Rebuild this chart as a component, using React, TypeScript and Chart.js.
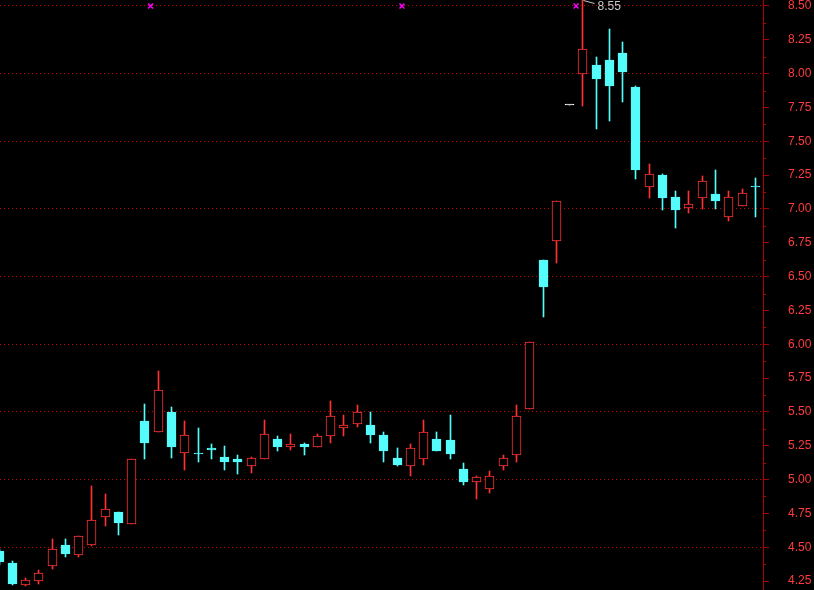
import React, { useEffect, useRef } from 'react';
import { Chart, registerables } from 'chart.js';

Chart.register(...registerables);

// ---- data ----
const OPEN = [
  4.47, 4.38, 4.22, 4.25, 4.36, 4.52, 4.44, 4.52, 4.72, 4.76,
  4.67, 5.43, 5.35, 5.50, 5.20, 5.20, 5.23, 5.17, 5.15, 5.10,
  5.15, 5.30, 5.24, 5.26, 5.24, 5.32, 5.38, 5.41, 5.40, 5.33,
  5.16, 5.10, 5.15, 5.30, 5.29, 5.08, 4.98, 4.93, 5.10, 5.18,
  5.52, 6.62, 6.76, 7.77, 8.00, 8.06, 8.10, 8.15, 7.90, 7.16,
  7.25, 7.09, 7.01, 7.08, 7.11, 6.94, 7.02, 7.16,
];
const HIGH = [
  4.49, 4.40, 4.27, 4.33, 4.56, 4.56, 4.58, 4.95, 4.89, 4.76,
  5.15, 5.56, 5.80, 5.54, 5.43, 5.38, 5.26, 5.25, 5.18, 5.17,
  5.44, 5.32, 5.34, 5.27, 5.34, 5.58, 5.48, 5.55, 5.50, 5.35,
  5.23, 5.26, 5.44, 5.35, 5.48, 5.12, 5.03, 5.06, 5.18, 5.55,
  6.02, 6.62, 7.06, 7.77, 8.55, 8.12, 8.33, 8.23, 7.91, 7.33,
  7.26, 7.13, 7.13, 7.24, 7.29, 7.13, 7.15, 7.23,
];
const LOW = [
  4.37, 4.22, 4.21, 4.23, 4.34, 4.43, 4.43, 4.51, 4.66, 4.59,
  4.67, 5.15, 5.35, 5.16, 5.07, 5.13, 5.15, 5.07, 5.04, 5.05,
  5.15, 5.21, 5.22, 5.18, 5.24, 5.27, 5.32, 5.39, 5.27, 5.13,
  5.10, 5.03, 5.11, 5.21, 5.15, 4.96, 4.86, 4.90, 5.07, 5.13,
  5.52, 6.20, 6.60, 7.77, 7.76, 7.59, 7.65, 7.79, 7.22, 7.08,
  6.99, 6.86, 6.97, 7.00, 7.00, 6.91, 7.02, 6.94,
];
const CLOSE = [
  4.39, 4.23, 4.26, 4.31, 4.49, 4.45, 4.58, 4.70, 4.78, 4.68,
  5.15, 5.27, 5.66, 5.24, 5.33, 5.19, 5.22, 5.13, 5.13, 5.16,
  5.34, 5.24, 5.26, 5.24, 5.32, 5.47, 5.40, 5.50, 5.33, 5.21,
  5.11, 5.23, 5.35, 5.21, 5.19, 4.98, 5.02, 5.03, 5.16, 5.47,
  6.02, 6.42, 7.06, 7.77, 8.18, 7.96, 7.91, 8.01, 7.29, 7.26,
  7.08, 6.99, 7.04, 7.21, 7.06, 7.09, 7.12, 7.16,
];
const Y_LABELS = [
  4.25, 4.5, 4.75, 5.0, 5.25, 5.5, 5.75, 6.0, 6.25,
  6.5, 6.75, 7.0, 7.25, 7.5, 7.75, 8.0, 8.25, 8.5,
];
const MARKER_X = [11.42, 30.37, 43.49];
const MARKER_Y = [8.5, 8.5, 8.5];

// ---- view / style ----
const Y_MIN = 4.184;
const Y_MAX = 8.544;
const X_MIN = 0.073;
const X_MAX = 57.58;
const RED = '#ff3232';
const CYAN = '#54fcfc';
const WHITE = '#ffffff';
const MAGENTA = '#ff00ff';
const AXIS_COLOR = '#b00000';
const GRID_COLOR = '#c80000';
const LABEL_COLOR = '#ff3c3c';
const FONT = '"Liberation Sans", Arial, sans-serif';

const candleColor = (i: number) => {
  if (CLOSE[i] > OPEN[i]) return RED;
  if (CLOSE[i] < OPEN[i]) return CYAN;
  return HIGH[i] === LOW[i] ? WHITE : CYAN;
};
const bodyFill = (i: number) => (CLOSE[i] > OPEN[i] ? '#000000' : candleColor(i));
const isHalf = (v: number) => Math.abs(v * 2 - Math.round(v * 2)) < 1e-6;

// snap bar elements computed by the scales to whole pixels for crisp candles
const snapPlugin = {
  id: 'snap',
  afterDatasetsUpdate(chart: any) {
    chart.data.datasets.forEach((ds: any, di: number) => {
      const meta = chart.getDatasetMeta(di);
      if (meta.type !== 'bar') return;
      meta.data.forEach((el: any) => {
        el.x = Math.floor(el.x) + 0.5;
        let y = Math.round(el.y);
        let b = Math.round(el.base);
        if (Math.abs(b - y) < 1 && Math.abs(el.base - el.y) > 0) b = y + 1;
        el.y = y;
        el.base = b;
        el.height = b - y;
      });
    });
  },
};

const decorPlugin = {
  id: 'decor',
  afterDraw(chart: any) {
    const { ctx, chartArea } = chart;
    const x = chart.scales.x;
    const y = chart.scales.y;
    ctx.save();
    // minor axis ticks
    ctx.strokeStyle = AXIS_COLOR;
    ctx.lineWidth = 1;
    ctx.beginPath();
    for (let k = 0; k < Y_LABELS.length - 1; k++) {
      const v = (Y_LABELS[k] + Y_LABELS[k + 1]) / 2;
      const py = Math.round(y.getPixelForValue(v)) + 0.5;
      ctx.moveTo(chartArea.right, py);
      ctx.lineTo(chartArea.right + 3, py);
    }
    ctx.stroke();
    // highest price annotation
    let iMax = 0;
    HIGH.forEach((h, i) => { if (h > HIGH[iMax]) iMax = i; });
    const px = Math.floor(x.getPixelForValue(iMax)) + 0.5;
    const py = Math.max(y.getPixelForValue(HIGH[iMax]), chartArea.top) + 0.5;
    ctx.strokeStyle = '#c8c8c8';
    ctx.beginPath();
    ctx.moveTo(px + 1, py);
    ctx.lineTo(px + 12, py + 3);
    ctx.stroke();
    ctx.fillStyle = '#c8c8c8';
    ctx.font = `12px ${FONT}`;
    ctx.textAlign = 'left';
    ctx.textBaseline = 'middle';
    ctx.fillText(HIGH[iMax].toFixed(2), px + 15, py + 6);
    ctx.restore();
  },
};

export default function App() {
  const ref = useRef<HTMLCanvasElement>(null);
  useEffect(() => {
    const n = OPEN.length;
    const idx = Array.from({ length: n }, (_, i) => i);
    const colors = idx.map(candleColor);
    const fills = idx.map(bodyFill);
    const chart = new Chart(ref.current as HTMLCanvasElement, {
      type: 'bar',
      data: {
        datasets: [
          {
            type: 'scatter',
            label: 'markers',
            data: MARKER_X.map((mx, i) => ({ x: mx, y: MARKER_Y[i] })),
            pointStyle: 'crossRot',
            pointRadius: 3.5,
            pointBorderWidth: 1.5,
            pointBorderColor: MAGENTA,
            pointBackgroundColor: MAGENTA,
            order: 0,
          } as any,
          {
            label: 'body',
            data: idx.map((i) => ({ x: i, y: [OPEN[i], CLOSE[i]] })),
            backgroundColor: fills,
            borderColor: colors,
            borderWidth: 1,
            borderSkipped: false,
            barThickness: 9,
            grouped: false,
            minBarLength: 1,
            order: 1,
          } as any,
          {
            label: 'wick',
            data: idx.map((i) => ({ x: i, y: [LOW[i], HIGH[i]] })),
            backgroundColor: colors,
            borderWidth: 0,
            barThickness: 1,
            grouped: false,
            order: 2,
          } as any,
        ],
      },
      options: {
        animation: false,
        responsive: false,
        maintainAspectRatio: false,
        events: [],
        layout: { padding: 0, autoPadding: false },
        plugins: { legend: { display: false }, tooltip: { enabled: false } },
        scales: {
          x: {
            type: 'linear',
            min: X_MIN,
            max: X_MAX,
            display: false,
            offset: false,
            grid: { offset: false },
          },
          y: {
            type: 'linear',
            position: 'right',
            min: Y_MIN,
            max: Y_MAX,
            beginAtZero: false,
            afterBuildTicks: (s: any) => {
              s.ticks = Y_LABELS.map((v) => ({ value: v }));
            },
            afterFit: (s: any) => {
              s.width = 51;
              s.paddingTop = 0;
              s.paddingBottom = 0;
            },
            ticks: {
              autoSkip: false,
              padding: 19,
              color: LABEL_COLOR,
              font: { family: FONT, size: 12 },
              callback: (v: any) => Number(v).toFixed(2),
            },
            grid: {
              color: (c: any) => (c.tick && isHalf(c.tick.value) ? GRID_COLOR : 'rgba(0,0,0,0)'),
              tickColor: AXIS_COLOR,
              tickLength: 6,
              tickBorderDash: [],
              drawTicks: true,
              lineWidth: 1,
            },
            border: { display: true, color: AXIS_COLOR, width: 1, dash: [1, 3] },
          },
        },
      } as any,
      plugins: [snapPlugin, decorPlugin],
    });
    return () => chart.destroy();
  }, []);
  return (
    <div style={{ position: 'absolute', left: 0, top: 0, width: 814, height: 590, background: '#000000' }}>
      <canvas ref={ref} width={814} height={590} style={{ display: 'block' }} />
    </div>
  );
}
